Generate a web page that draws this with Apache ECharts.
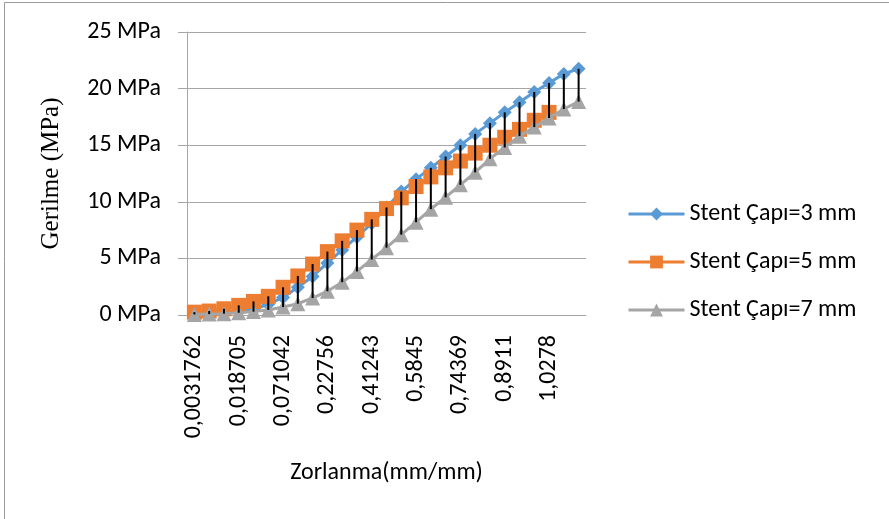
<!DOCTYPE html>
<html>
<head>
<meta charset="utf-8">
<script src="https://cdn.jsdelivr.net/npm/echarts@6/dist/echarts.min.js"></script>
<style>
  html, body { margin: 0; padding: 0; background: #fff; }
  #chart { width: 889px; height: 519px; }
</style>
</head>
<body>
<div id="chart"></div>
<script>
// Strain values printed under every third category
const tickLabels = ['0,0031762', '0,018705', '0,071042', '0,22756', '0,41243',
                    '0,5845', '0,74369', '0,8911', '1,0278'];
const categoryCount = 27;
const labelStep = 3;

// Stress (MPa) for each stent diameter
const stent3 = [0.05, 0.1, 0.2, 0.3, 0.5, 0.95, 1.55, 2.45, 3.4, 4.6, 5.75, 6.9, 8.1, 9.5,
                10.9, 12.0, 13.0, 14.0, 15.0, 16.0, 16.95, 17.9, 18.8, 19.7, 20.5, 21.3, 21.75];
const stent5 = [0.25, 0.35, 0.55, 0.85, 1.2, 1.65, 2.45, 3.45, 4.5, 5.6, 6.55, 7.5, 8.45,
                9.4, 10.35, 11.35, 12.2, 13.0, 13.6, 14.3, 15.0, 15.7, 16.4, 17.2, 17.9];
const stent7 = [0.05, 0.08, 0.12, 0.2, 0.3, 0.45, 0.7, 1.0, 1.5, 2.1, 2.9, 3.85, 4.9, 5.95,
                7.1, 8.2, 9.35, 10.4, 11.5, 12.6, 13.8, 14.8, 15.8, 16.6, 17.4, 18.2, 18.85];

const seriesNames = ['Stent Çapı=3 mm', 'Stent Çapı=5 mm', 'Stent Çapı=7 mm'];
const seriesColors = ['#5B9BD5', '#ED7D31', '#A5A5A5'];

// Category axis: label text only on every third slot
const categories = [];
for (let i = 0; i < categoryCount; i++) {
  categories.push(i % labelStep === 0 ? tickLabels[i / labelStep] : '');
}

// High-low lines: highest to lowest value at each category
const allSeries = [stent3, stent5, stent7];
const highLow = [];
for (let i = 0; i < categoryCount; i++) {
  const vals = allSeries.map(s => s[i]).filter(v => v !== undefined);
  highLow.push([i, Math.max(...vals), Math.min(...vals)]);
}

const FONT = 'Carlito, Lato, "Liberation Sans", sans-serif';
const chart = echarts.init(document.getElementById('chart'), null, { renderer: 'canvas' });

chart.setOption({
  animation: false,
  backgroundColor: '#ffffff',
  color: seriesColors,
  graphic: [{
    type: 'rect',
    shape: { x: 4.5, y: 2.5, width: 1000, height: 1000 },
    style: { fill: 'none', stroke: '#9a9a9a', lineWidth: 1 },
    silent: true
  }],
  grid: { left: 187, right: 303, top: 32, bottom: 204, containLabel: false },
  legend: {
    orient: 'vertical',
    left: 622,
    top: 194,
    itemWidth: 56,
    itemHeight: 16,
    itemGap: 18,
    lineStyle: { width: 3 },
    textStyle: { fontFamily: FONT, fontSize: 24, color: '#000', lineHeight: 30 },
    data: seriesNames
  },
  xAxis: {
    type: 'category',
    data: categories,
    boundaryGap: true,
    name: 'Zorlanma(mm/mm)',
    nameLocation: 'middle',
    nameGap: 146,
    nameTextStyle: { fontFamily: FONT, fontSize: 24, color: '#000', verticalAlign: 'top' },
    axisLine: { lineStyle: { color: '#a6a6a6', width: 1 } },
    axisTick: { show: false },
    axisLabel: { interval: labelStep - 1, rotate: 90, fontFamily: FONT, fontSize: 24, color: '#000', margin: 20 },
    splitLine: { show: false }
  },
  yAxis: {
    type: 'value',
    min: 0,
    max: 25,
    interval: 5,
    name: 'Gerilme (MPa)',
    nameLocation: 'middle',
    nameGap: 123,
    nameRotate: 90,
    nameTextStyle: { fontFamily: '"Liberation Serif", "Times New Roman", serif', fontSize: 25, color: '#000' },
    axisLine: { show: true, lineStyle: { color: '#a6a6a6', width: 1 } },
    axisTick: { show: true, length: 9, lineStyle: { color: '#a6a6a6' } },
    axisLabel: { formatter: '{value} MPa', fontFamily: FONT, fontSize: 24, color: '#000', margin: 26 },
    splitLine: { lineStyle: { color: '#a6a6a6', width: 1 } }
  },
  series: [
    {
      name: seriesNames[0], type: 'line', data: stent3,
      symbol: 'diamond', symbolSize: 14, showAllSymbol: true,
      lineStyle: { width: 3, color: seriesColors[0] },
      itemStyle: { color: seriesColors[0] },
      z: 2
    },
    {
      name: seriesNames[1], type: 'line', data: stent5,
      symbol: 'rect', symbolSize: 15, showAllSymbol: true,
      lineStyle: { width: 3, color: seriesColors[1] },
      itemStyle: { color: seriesColors[1] },
      z: 3
    },
    {
      name: seriesNames[2], type: 'line', data: stent7,
      symbol: 'triangle', symbolSize: 15, showAllSymbol: true,
      lineStyle: { width: 3, color: seriesColors[2] },
      itemStyle: { color: seriesColors[2] },
      z: 4
    },
    {
      name: 'highLow', type: 'custom', data: highLow, z: 5, silent: true,
      encode: { x: 0, y: [1, 2] },
      renderItem: function (params, api) {
        const top = api.coord([api.value(0), api.value(1)]);
        const bottom = api.coord([api.value(0), api.value(2)]);
        return {
          type: 'line',
          shape: { x1: top[0], y1: top[1], x2: bottom[0], y2: bottom[1] },
          style: { stroke: '#000', lineWidth: 2 }
        };
      }
    }
  ]
});
</script>
</body>
</html>
